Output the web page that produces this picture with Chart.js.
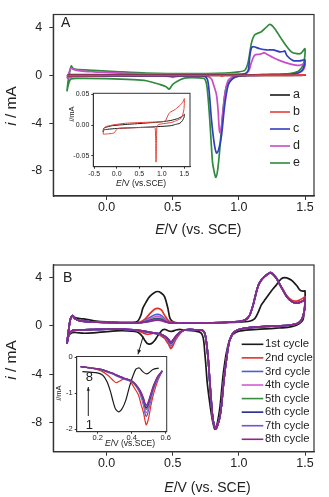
<!DOCTYPE html>
<html><head><meta charset="utf-8">
<script src="https://cdn.jsdelivr.net/npm/chart.js@4.4.1/dist/chart.umd.min.js"></script>
<style>
html,body{margin:0;padding:0;background:#fff;}
#wrap{position:relative;width:329px;height:497px;overflow:hidden;background:#fff;}
canvas{position:absolute;display:block;}
</style></head><body>
<div id="wrap">
<canvas id="mainA" width="329" height="250" style="left:0;top:0;width:329px;height:250px"></canvas>
<canvas id="insetA" width="140" height="104" style="left:58px;top:86px;width:140px;height:104px"></canvas>
<canvas id="mainB" width="329" height="247" style="left:0;top:250px;width:329px;height:247px"></canvas>
<canvas id="insetB" width="122" height="100" style="left:50px;top:350px;width:122px;height:100px"></canvas>
</div>
<script>
// ---------------- Panel A data (E in V vs. SCE, i in mA) ----------------
const labelsA = ['a', 'b', 'c', 'd', 'e'];
const potA_a = [-0.30,-0.29,-0.25,-0.10,0.20,0.60,1.00,1.20,1.35,1.45,1.50,1.49,1.45,1.40,1.30,1.20,0.90,0.60,0.30,0.00,-0.20,-0.29,-0.30];
const curA_a = [-0.011,-0.0055,-0.0038,-0.0010,0.0010,0.0030,0.0054,0.0075,0.0105,0.0140,0.0175,0.0120,0.0065,0.0030,0.0010,-0.0010,-0.0025,-0.0035,-0.0045,-0.0055,-0.0068,-0.0080,-0.0110];
const potA_b = [-0.30,-0.29,-0.25,-0.10,0.20,0.60,1.00,1.08,1.12,1.17,1.30,1.41,1.47,1.50,1.49,1.45,1.40,1.30,1.20,1.00,0.92,0.89,0.88,0.872,0.865,0.855,0.83,0.70,0.40,0.10,0.02,-0.02,-0.05,-0.10,-0.20,-0.29,-0.30];
const curA_b = [-0.0146,-0.006,-0.0027,0.0000,0.0030,0.0044,0.0054,0.0070,0.0130,0.0200,0.0255,0.0325,0.0380,0.0430,0.0250,0.0140,0.0100,0.0065,0.0040,0.0020,0.0005,-0.0040,-0.0300,-0.0600,-0.0300,-0.0060,-0.0035,-0.0038,-0.0042,-0.0048,-0.0058,-0.0090,-0.0120,-0.0135,-0.0142,-0.0148,-0.0146];
const potA_c = [-0.30,-0.28,0.00,0.50,0.90,1.04,1.07,1.083,1.095,1.112,1.158,1.21,1.258,1.31,1.335,1.347,1.364,1.41,1.46,1.50,1.495,1.48,1.45,1.40,1.30,1.10,1.00,0.956,0.92,0.894,0.868,0.845,0.831,0.815,0.793,0.775,0.763,0.742,0.70,0.50,0.20,-0.10,-0.30];
const curA_c = [-0.05,0.06,0.06,0.04,0.05,0.10,0.40,1.64,2.30,2.40,2.23,2.13,2.13,1.97,2.00,2.05,1.64,1.24,1.22,1.30,0.85,0.45,0.22,0.10,0.05,0.00,-0.05,-0.24,-0.78,-2.39,-5.08,-6.30,-6.50,-5.80,-3.73,-1.30,-0.37,-0.08,-0.05,-0.05,-0.05,-0.05,-0.05];
const potA_d = [-0.30,-0.285,-0.27,-0.25,-0.20,-0.10,0.00,0.20,0.40,0.70,1.00,1.06,1.08,1.095,1.12,1.158,1.19,1.21,1.258,1.31,1.385,1.46,1.50,1.495,1.48,1.45,1.40,1.30,1.10,0.97,0.92,0.894,0.876,0.865,0.857,0.85,0.843,0.83,0.805,0.793,0.767,0.74,0.60,0.53,0.50,0.47,0.40,0.20,-0.10,-0.25,-0.30];
const curA_d = [-0.25,0.20,0.62,0.50,0.38,0.30,0.25,0.15,0.10,0.08,0.10,0.20,0.50,1.10,1.70,1.77,1.88,1.80,1.50,1.24,0.97,0.84,1.00,0.65,0.38,0.20,0.10,0.05,0.00,-0.05,-0.40,-1.58,-3.47,-4.60,-4.80,-4.30,-2.93,-1.58,-0.65,-0.30,-0.10,-0.05,-0.05,-0.08,-0.16,-0.08,-0.05,-0.05,-0.06,-0.10,-0.25];
const potA_e = [-0.30,-0.29,-0.275,-0.267,-0.255,-0.23,-0.10,0.10,0.30,0.60,0.90,1.00,1.045,1.07,1.095,1.12,1.17,1.20,1.233,1.27,1.334,1.397,1.44,1.47,1.50,1.495,1.485,1.45,1.385,1.18,1.03,0.956,0.906,0.88,0.856,0.84,0.826,0.812,0.80,0.78,0.76,0.742,0.70,0.60,0.56,0.50,0.473,0.45,0.40,0.30,0.20,0.00,-0.20,-0.27,-0.29,-0.30];
const curA_e = [-1.34,-0.40,0.50,0.80,0.60,0.50,0.42,0.30,0.20,0.15,0.20,0.30,0.43,1.10,2.70,3.40,3.66,3.95,4.27,3.93,2.85,1.97,1.82,1.85,2.23,1.30,0.84,0.35,0.16,0.08,-0.02,-0.24,-0.91,-2.93,-6.15,-7.90,-8.55,-8.00,-7.20,-3.73,-1.05,-0.30,-0.20,-0.20,-0.35,-0.75,-1.15,-0.95,-0.75,-0.45,-0.35,-0.27,-0.25,-0.30,-0.80,-1.34];

// ---------------- Panel B data ----------------
const labelsB = ['1st cycle','2nd cycle','3rd cycle','4th cycle','5th cycle','6th cycle','7th cycle','8th cycle'];
const potB1 = [-0.30,-0.29,-0.275,-0.258,-0.24,-0.20,-0.154,-0.08,0.00,0.10,0.20,0.236,0.26,0.274,0.30,0.325,0.36,0.385,0.41,0.438,0.463,0.48,0.51,0.60,0.80,1.00,1.08,1.12,1.145,1.17,1.20,1.233,1.26,1.284,1.32,1.347,1.38,1.41,1.44,1.46,1.485,1.50,
 1.497,1.485,1.46,1.435,1.38,1.284,1.20,1.08,1.00,0.956,0.944,0.93,0.918,0.906,0.894,0.881,0.869,0.856,0.84,0.828,0.818,0.805,0.793,0.775,0.76,0.75,0.742,0.735,0.725,0.71,0.68,0.62,0.56,0.525,0.50,0.485,0.465,0.445,0.425,0.405,0.385,0.365,0.345,0.325,0.305,0.29,0.275,0.255,0.23,0.19,0.11,0.00,-0.10,-0.177,-0.24,-0.275,-0.29,-0.30];
const curB1 = [-1.50,-0.70,0.50,0.86,0.70,0.60,0.55,0.40,0.33,0.30,0.30,0.40,0.90,1.47,2.00,2.43,2.75,2.85,2.75,2.43,1.47,0.60,0.30,0.25,0.25,0.30,0.38,0.60,1.10,1.74,2.20,2.71,3.10,3.40,3.90,4.00,3.90,3.68,3.30,2.99,2.88,2.90,
 1.50,0.50,0.20,0.05,-0.10,-0.19,-0.25,-0.33,-0.45,-0.70,-0.89,-1.20,-1.60,-2.20,-3.00,-4.07,-5.40,-6.83,-7.90,-8.40,-8.58,-8.10,-7.39,-6.00,-4.62,-3.20,-2.20,-1.30,-0.80,-0.55,-0.45,-0.38,-0.30,-0.34,-0.44,-0.46,-0.40,-0.30,-0.33,-0.55,-0.85,-1.20,-1.42,-1.52,-1.44,-1.22,-0.95,-0.68,-0.50,-0.43,-0.40,-0.48,-0.58,-0.61,-0.55,-0.65,-0.95,-1.50];
// potentials shared by cycles 2-8
const potB = [-0.30,-0.29,-0.275,-0.258,-0.24,-0.20,-0.10,0.00,0.10,0.20,0.25,0.29,0.33,0.365,0.39,0.415,0.44,0.47,0.52,0.60,0.80,1.00,1.05,1.082,1.107,1.125,1.145,1.17,1.196,1.22,1.241,1.26,1.284,1.31,1.334,1.36,1.384,1.41,1.435,1.46,1.485,1.50,
 1.497,1.485,1.47,1.45,1.42,1.38,1.30,1.20,1.10,1.00,0.956,0.93,0.918,0.906,0.894,0.881,0.869,0.855,0.84,0.826,0.812,0.80,0.78,0.77,0.76,0.75,0.742,0.73,0.717,0.68,0.62,0.58,0.553,0.53,0.515,0.50,0.492,0.485,0.478,0.47,0.455,0.44,0.415,0.39,0.36,0.33,0.31,0.29,0.26,0.22,0.16,0.10,0.00,-0.10,-0.20,-0.26,-0.285,-0.30];
const curB2 = [-1.50,-0.60,0.50,0.85,0.60,0.42,0.32,0.28,0.25,0.24,0.30,0.55,1.05,1.40,1.45,1.30,0.85,0.40,0.25,0.22,0.25,0.35,0.50,0.90,1.70,2.50,3.30,3.80,4.10,4.30,4.42,4.25,3.95,3.45,3.00,2.55,2.25,2.08,2.05,2.15,2.30,2.40,
 1.50,0.80,0.45,0.25,0.12,0.05,0.00,-0.05,-0.12,-0.30,-0.60,-1.20,-1.85,-2.80,-3.79,-5.10,-6.56,-7.60,-8.20,-8.55,-8.20,-7.40,-4.62,-3.00,-1.85,-1.00,-0.61,-0.42,-0.36,-0.33,-0.30,-0.38,-0.66,-1.00,-1.30,-1.68,-1.82,-1.88,-1.75,-1.55,-1.31,-1.05,-0.85,-0.66,-0.59,-0.66,-0.71,-0.64,-0.50,-0.38,-0.30,-0.26,-0.28,-0.30,-0.33,-0.40,-0.70,-1.50];
const curB3 = [-1.50,-0.60,0.50,0.85,0.60,0.42,0.32,0.28,0.25,0.24,0.28,0.42,0.72,0.92,0.95,0.85,0.58,0.33,0.25,0.22,0.25,0.35,0.50,0.90,1.70,2.50,3.30,3.80,4.10,4.32,4.45,4.27,3.95,3.42,2.95,2.45,2.16,1.95,1.88,1.95,2.07,2.25,
 1.40,0.80,0.45,0.25,0.12,0.05,0.00,-0.05,-0.12,-0.30,-0.60,-1.20,-1.85,-2.80,-3.79,-5.10,-6.56,-7.60,-8.20,-8.55,-8.20,-7.40,-4.62,-3.00,-1.85,-1.00,-0.61,-0.42,-0.36,-0.33,-0.30,-0.38,-0.60,-0.88,-1.15,-1.45,-1.60,-1.65,-1.55,-1.35,-1.10,-0.92,-0.75,-0.66,-0.62,-0.56,-0.52,-0.47,-0.42,-0.35,-0.30,-0.26,-0.28,-0.30,-0.33,-0.40,-0.70,-1.50];
const curB4 = [-1.50,-0.60,0.50,0.85,0.60,0.42,0.32,0.28,0.25,0.24,0.27,0.38,0.60,0.76,0.78,0.70,0.50,0.30,0.25,0.22,0.25,0.35,0.50,0.90,1.70,2.50,3.30,3.80,4.10,4.31,4.43,4.26,3.95,3.42,2.95,2.45,2.16,1.95,1.88,1.95,2.07,2.25,
 1.40,0.80,0.45,0.25,0.12,0.05,0.00,-0.05,-0.12,-0.30,-0.60,-1.20,-1.85,-2.80,-3.79,-5.10,-6.56,-7.60,-8.20,-8.55,-8.20,-7.40,-4.62,-3.00,-1.85,-1.00,-0.61,-0.42,-0.36,-0.33,-0.30,-0.38,-0.58,-0.85,-1.10,-1.38,-1.50,-1.55,-1.46,-1.28,-1.05,-0.90,-0.74,-0.65,-0.61,-0.55,-0.51,-0.46,-0.41,-0.35,-0.30,-0.26,-0.28,-0.30,-0.33,-0.40,-0.70,-1.50];
const curB5 = [-1.50,-0.60,0.50,0.85,0.60,0.42,0.32,0.28,0.25,0.24,0.26,0.34,0.48,0.60,0.62,0.56,0.42,0.28,0.25,0.22,0.25,0.35,0.50,0.90,1.70,2.50,3.30,3.80,4.10,4.30,4.42,4.25,3.95,3.42,2.95,2.45,2.16,1.95,1.88,1.95,2.07,2.25,
 1.40,0.80,0.45,0.25,0.12,0.05,0.00,-0.05,-0.12,-0.30,-0.60,-1.20,-1.85,-2.80,-3.79,-5.10,-6.56,-7.60,-8.20,-8.55,-8.20,-7.40,-4.62,-3.00,-1.85,-1.00,-0.61,-0.42,-0.36,-0.33,-0.30,-0.38,-0.56,-0.82,-1.05,-1.30,-1.42,-1.45,-1.38,-1.22,-1.02,-0.88,-0.73,-0.65,-0.60,-0.54,-0.50,-0.46,-0.41,-0.35,-0.30,-0.26,-0.28,-0.30,-0.33,-0.40,-0.70,-1.50];
const curB6 = [-1.50,-0.60,0.50,0.85,0.60,0.42,0.32,0.28,0.25,0.24,0.26,0.33,0.44,0.54,0.56,0.51,0.39,0.27,0.25,0.22,0.25,0.35,0.50,0.90,1.70,2.50,3.30,3.80,4.10,4.30,4.42,4.25,3.95,3.42,2.95,2.45,2.16,1.95,1.88,1.95,2.07,2.25,
 1.40,0.80,0.45,0.25,0.12,0.05,0.00,-0.05,-0.12,-0.30,-0.60,-1.20,-1.85,-2.80,-3.79,-5.10,-6.56,-7.60,-8.20,-8.55,-8.20,-7.40,-4.62,-3.00,-1.85,-1.00,-0.61,-0.42,-0.36,-0.33,-0.30,-0.38,-0.55,-0.80,-1.02,-1.26,-1.37,-1.40,-1.34,-1.19,-1.00,-0.87,-0.72,-0.64,-0.60,-0.54,-0.50,-0.45,-0.40,-0.34,-0.30,-0.26,-0.28,-0.30,-0.33,-0.40,-0.70,-1.50];
const curB7 = [-1.50,-0.60,0.50,0.85,0.60,0.42,0.32,0.28,0.25,0.24,0.26,0.32,0.41,0.49,0.51,0.47,0.37,0.27,0.25,0.22,0.25,0.35,0.50,0.90,1.70,2.50,3.30,3.80,4.10,4.30,4.42,4.25,3.95,3.42,2.95,2.45,2.16,1.95,1.88,1.95,2.07,2.25,
 1.40,0.80,0.45,0.25,0.12,0.05,0.00,-0.05,-0.12,-0.30,-0.60,-1.20,-1.85,-2.80,-3.79,-5.10,-6.56,-7.60,-8.20,-8.55,-8.20,-7.40,-4.62,-3.00,-1.85,-1.00,-0.61,-0.42,-0.36,-0.33,-0.30,-0.38,-0.54,-0.78,-1.00,-1.23,-1.33,-1.36,-1.30,-1.16,-0.98,-0.86,-0.72,-0.64,-0.59,-0.53,-0.49,-0.45,-0.40,-0.34,-0.30,-0.26,-0.28,-0.30,-0.33,-0.40,-0.70,-1.50];
const curB8 = [-1.50,-0.60,0.50,0.85,0.60,0.42,0.32,0.28,0.25,0.24,0.26,0.31,0.38,0.45,0.47,0.43,0.35,0.26,0.25,0.22,0.25,0.35,0.50,0.90,1.70,2.50,3.30,3.80,4.10,4.30,4.42,4.25,3.95,3.42,2.95,2.45,2.16,1.95,1.88,1.95,2.07,2.25,
 1.40,0.80,0.45,0.25,0.12,0.05,0.00,-0.05,-0.12,-0.30,-0.60,-1.20,-1.85,-2.80,-3.79,-5.10,-6.56,-7.60,-8.20,-8.55,-8.20,-7.40,-4.62,-3.00,-1.85,-1.00,-0.61,-0.42,-0.36,-0.33,-0.30,-0.38,-0.53,-0.76,-0.97,-1.20,-1.30,-1.32,-1.27,-1.14,-0.97,-0.85,-0.71,-0.63,-0.59,-0.53,-0.49,-0.45,-0.40,-0.34,-0.30,-0.26,-0.28,-0.30,-0.33,-0.40,-0.70,-1.50];

// axis ticks
const ticksMainX = [0.0, 0.5, 1.0, 1.5];
const ticksMainY = [-8, -4, 0, 4];
const ticksInsetAX = [-0.5, 0.0, 0.5, 1.0, 1.5];
const ticksInsetAY = [-0.05, 0.00, 0.05];
const ticksInsetBX = [0.2, 0.4, 0.6];
const ticksInsetBY = [-2, -1, 0];

// ---------------- styling ----------------
const FONT = "'Liberation Sans', Arial, Helvetica, sans-serif";
const TXT = '#222';
const AX = '#333';
const colorsA = ['#1a1a1a', '#e3403a', '#2f3fbf', '#c84cc8', '#2f8a3e'];
const colorsB = ['#1a1a1a', '#e5302a', '#4a5fd2', '#d45ad4', '#3a8c45', '#1e2b8a', '#7a4fd8', '#8a2a88'];

function pts(E, I) { return E.map((e, k) => ({ x: e, y: I[k] })); }

function richText(ctx, parts, x, y, size, rotate) {
  ctx.save();
  ctx.translate(x, y);
  if (rotate) ctx.rotate(rotate);
  ctx.textBaseline = 'middle';
  ctx.textAlign = 'left';
  ctx.fillStyle = TXT;
  const fonts = parts.map(p => (p.i ? 'italic ' : '') + size + 'px ' + FONT);
  let total = 0;
  parts.forEach((p, k) => { ctx.font = fonts[k]; total += ctx.measureText(p.t).width; });
  let cx = -total / 2;
  parts.forEach((p, k) => { ctx.font = fonts[k]; ctx.fillText(p.t, cx, 0); cx += ctx.measureText(p.t).width; });
  ctx.restore();
}
function arrow(ctx, x1, y1, x2, y2, head, w) {
  ctx.save();
  ctx.strokeStyle = TXT; ctx.fillStyle = TXT; ctx.lineWidth = w;
  ctx.beginPath(); ctx.moveTo(x1, y1); ctx.lineTo(x2, y2); ctx.stroke();
  const a = Math.atan2(y2 - y1, x2 - x1);
  ctx.beginPath();
  ctx.moveTo(x2, y2);
  ctx.lineTo(x2 - head * Math.cos(a - 0.4), y2 - head * Math.sin(a - 0.4));
  ctx.lineTo(x2 - head * Math.cos(a + 0.4), y2 - head * Math.sin(a + 0.4));
  ctx.closePath(); ctx.fill();
  ctx.restore();
}
function legend(ctx, labels, colors, x1, x2, tx, y0, dy, size, lw) {
  ctx.save();
  ctx.font = size + 'px ' + FONT;
  ctx.textBaseline = 'middle'; ctx.textAlign = 'left';
  labels.forEach((l, k) => {
    const y = y0 + dy * k;
    ctx.strokeStyle = colors[k]; ctx.lineWidth = lw;
    ctx.beginPath(); ctx.moveTo(x1, y); ctx.lineTo(x2, y); ctx.stroke();
    ctx.fillStyle = TXT; ctx.fillText(l, tx, y);
  });
  ctx.restore();
}

function makeChart(id, c) {
  const frame = {
    id: 'frame' + id,
    afterDraw(chart) {
      const ctx = chart.ctx, a = chart.chartArea;
      ctx.save();
      ctx.strokeStyle = AX; ctx.lineWidth = c.frameW;
      ctx.strokeRect(a.left, a.top, a.right - a.left, a.bottom - a.top);
      ctx.restore();
      if (c.decor) c.decor(ctx, chart);
    }
  };
  const axisCommon = (ax) => ({
    type: 'linear', min: ax.min, max: ax.max,
    afterBuildTicks: s => { s.ticks = ax.ticks.map(v => ({ value: v })); },
    grid: { display: true, drawOnChartArea: false, drawTicks: true, tickLength: c.tickLen, color: AX, lineWidth: 1 },
    border: { display: true, color: AX, width: c.frameW },
    ticks: { color: TXT, font: { family: FONT, size: c.tickSize }, padding: ax.pad, maxRotation: 0, autoSkip: false, callback: v => ax.fmt(v) }
  });
  const xs = axisCommon(c.x); xs.afterFit = s => { s.height = c.H - c.area.b; };
  const ys = axisCommon(c.y); ys.afterFit = s => { s.width = c.area.l; };
  return new Chart(document.getElementById(id), {
    type: 'scatter',
    data: { datasets: c.datasets },
    options: {
      responsive: false, animation: false, events: [], devicePixelRatio: 1,
      layout: { padding: { left: 0, top: c.area.t, right: c.W - c.area.r, bottom: 0 } },
      plugins: { legend: { display: false }, tooltip: { enabled: false } },
      scales: { x: xs, y: ys }
    },
    plugins: [frame]
  });
}
function ds(E, I, color, lw, order, tension) {
  return { data: pts(E, I), showLine: true, borderColor: color, backgroundColor: color, borderWidth: lw,
    pointRadius: 0, fill: false, tension: tension, order: order };
}

// ---------------- Panel A ----------------
const seriesA = [[potA_a, curA_a], [potA_b, curA_b], [potA_c, curA_c], [potA_d, curA_d], [potA_e, curA_e]];
const orderA = [1, 0, 2, 3, 4];
makeChart('mainA', {
  W: 329, H: 250, area: { l: 53.3, t: 7, r: 314, b: 196 }, tickLen: 4, tickSize: 12.5, frameW: 1.2,
  x: { min: -0.403, max: 1.568, ticks: ticksMainX, fmt: v => v.toFixed(1), pad: 0 },
  y: { min: -10.1, max: 5.1, ticks: ticksMainY, fmt: v => String(v), pad: 7 },
  datasets: seriesA.map((s, k) => ds(s[0], s[1], colorsA[k], 1.7, orderA[k], 0.25)),
  decor(ctx) {
    ctx.save(); ctx.fillStyle = TXT; ctx.font = '14px ' + FONT; ctx.textBaseline = 'alphabetic';
    ctx.fillText('A', 61, 27); ctx.restore();
    legend(ctx, labelsA, colorsA, 270, 290, 293, 95, 17, 12.5, 1.6);
    richText(ctx, [{ t: 'E', i: true }, { t: '/V (vs. SCE)' }], 198.3, 230, 14);
    richText(ctx, [{ t: 'i', i: true }, { t: ' / mA' }], 12, 106, 15.5, -Math.PI / 2);
  }
});
makeChart('insetA', {
  W: 140, H: 104, area: { l: 35.3, t: 7.3, r: 132, b: 80.7 }, tickLen: 2, tickSize: 7, frameW: 1,
  x: { min: -0.519, max: 1.625, ticks: ticksInsetAX, fmt: v => v.toFixed(1), pad: 1 },
  y: { min: -0.0674, max: 0.0515, ticks: ticksInsetAY, fmt: v => v.toFixed(2), pad: 2 },
  datasets: [ds(potA_a, curA_a, colorsA[0], 1, 1, 0.2), ds(potA_b, curA_b, colorsA[1], 1, 0, 0.2)],
  decor(ctx) {
    richText(ctx, [{ t: 'E', i: true }, { t: '/V (vs.SCE)' }], 83, 97.5, 8.5);
    richText(ctx, [{ t: 'i', i: true }, { t: '/mA' }], 13.7, 28, 7.5, -Math.PI / 2);
  }
});

// ---------------- Panel B ----------------
const seriesB = [[potB1, curB1], [potB, curB2], [potB, curB3], [potB, curB4], [potB, curB5], [potB, curB6], [potB, curB7], [potB, curB8]];
makeChart('mainB', {
  W: 329, H: 247, area: { l: 53.3, t: 15, r: 314, b: 201.7 }, tickLen: 4, tickSize: 12.5, frameW: 1.2,
  x: { min: -0.403, max: 1.568, ticks: ticksMainX, fmt: v => v.toFixed(1), pad: 0 },
  y: { min: -10.44, max: 5.05, ticks: ticksMainY, fmt: v => String(v), pad: 7 },
  datasets: seriesB.map((s, k) => ds(s[0], s[1], colorsB[k], 1.7, 10 - k, 0.25)),
  decor(ctx) {
    ctx.save(); ctx.fillStyle = TXT; ctx.font = '14px ' + FONT; ctx.textBaseline = 'alphabetic';
    ctx.fillText('B', 63, 32); ctx.restore();
    legend(ctx, labelsB, colorsB, 241.7, 263.3, 265, 94.3, 13.57, 11.3, 1.6);
    arrow(ctx, 143, 86.7, 138, 104.3, 5, 1);
    richText(ctx, [{ t: 'E', i: true }, { t: '/V (vs. SCE)' }], 207.5, 238.3, 14);
    richText(ctx, [{ t: 'i', i: true }, { t: ' / mA' }], 12, 110, 15.5, -Math.PI / 2);
  }
});
makeChart('insetB', {
  W: 122, H: 100, area: { l: 26.7, t: 6, r: 116.7, b: 81.7 }, tickLen: 2, tickSize: 7.5, frameW: 1,
  x: { min: 0.0765, max: 0.606, ticks: ticksInsetBX, fmt: v => v.toFixed(1), pad: 0 },
  y: { min: -2.07, max: 0.02, ticks: ticksInsetBY, fmt: v => String(v), pad: 2 },
  datasets: seriesB.map((s, k) => ({
    data: pts(s[0], s[1]).filter(p => p.x >= 0.1 && p.x <= 0.6 && p.y < 0),
    showLine: true, borderColor: colorsB[k], borderWidth: 1.2, pointRadius: 0, fill: false, tension: 0.25, order: 10 - k
  })),
  decor(ctx) {
    ctx.save(); ctx.fillStyle = TXT; ctx.font = '13px ' + FONT; ctx.textAlign = 'center'; ctx.textBaseline = 'middle';
    ctx.fillText('8', 39.3, 27.5); ctx.fillText('1', 39.3, 75); ctx.restore();
    arrow(ctx, 38.3, 66, 38.3, 37, 4, 1);
    richText(ctx, [{ t: 'E', i: true }, { t: '/V (vs.SCE)' }], 80, 94, 8.5);
    richText(ctx, [{ t: 'i', i: true }, { t: '/mA' }], 9, 43, 7.5, -Math.PI / 2);
  }
});
</script>
</body></html>
